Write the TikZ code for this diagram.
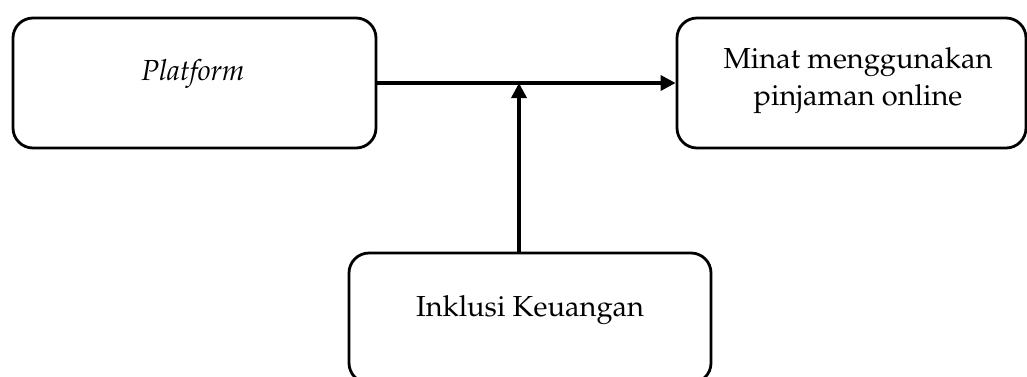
\documentclass[tikz,border=0pt]{standalone}
\usepackage[T1]{fontenc}
\usepackage{mathpazo}
\usetikzlibrary{arrows.meta}
\begin{document}
\begin{tikzpicture}[x=1pt,y=-1pt,
  box/.style={draw, line width=2.8pt, rounded corners=20pt, inner sep=0pt,
    minimum width=#1, minimum height=130pt},
  lbl/.style={inner sep=0pt, align=center, font=\fontsize{29}{37}\selectfont},
  link/.style={line width=3.4pt, -{Triangle[length=15pt,width=15pt]}}]
  \useasboundingbox (0,0) rectangle (1027,376);
  % boxes
  \node[box=363pt] (plat) at (194.5,83) {};
  \node[box=349pt] (minat) at (851.5,83) {};
  \node[box=362pt] (inkl) at (530,318) {};
  % labels
  \node[lbl] (platT) at (193,74) {\itshape Platform};
  \node[lbl] (minatT) at (858,81) {Minat menggunakan\\pinjaman online};
  \node[lbl] (inklT) at (530,310) {Inklusi Keuangan};
  % connectors
  \coordinate (join) at (519,83);
  \draw[link] (plat.east) -- (minat.west);
  \draw[link] (join |- inkl.north) -- (join);
\end{tikzpicture}
\end{document}
